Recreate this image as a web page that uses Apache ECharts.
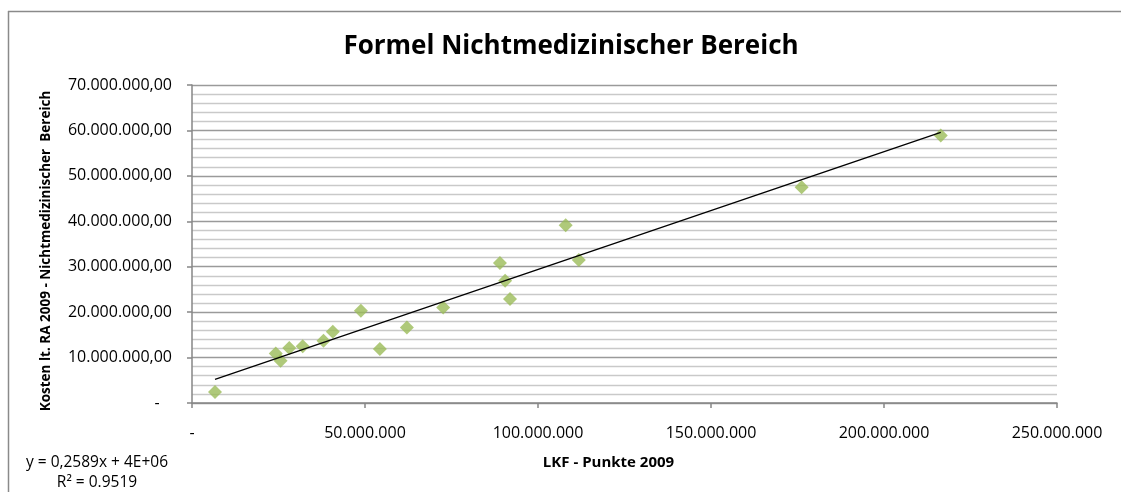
<!DOCTYPE html>
<html>
<head>
<meta charset="utf-8">
<script src="https://cdn.jsdelivr.net/npm/echarts@6/dist/echarts.min.js"></script>
<style>html,body{margin:0;padding:0;background:#fff;}#c{width:1121px;height:492px;}</style>
</head>
<body>
<div id="c"></div>
<script>
// LKF-Punkte 2009 (x) and Kosten lt. RA 2009 (y)
const lkfPunkte = [6650000, 24200000, 25600000, 28100000, 32000000, 38000000, 40700000, 48800000, 54300000, 62100000, 72600000, 89000000, 90500000, 91900000, 108000000, 111800000, 176200000, 216400000];
const kosten    = [2400000, 10900000, 9300000, 12100000, 12500000, 13700000, 15700000, 20300000, 11900000, 16600000, 21000000, 30800000, 26900000, 22900000, 39100000, 31500000, 47500000, 58900000];
const titleText = 'Formel Nichtmedizinischer Bereich';
const xAxisName = 'LKF - Punkte 2009';
const yAxisName = 'Kosten lt. RA 2009 - Nichtmedizinischer  Bereich';
const equationText = 'y = 0,2589x + 4E+06';
const r2Text = 'R² = 0.9519';

const FONT = '"Open Sans", Lato, sans-serif';

function fmtThousands(v) {
  return String(Math.round(v)).replace(/\B(?=(\d{3})+(?!\d))/g, '.');
}

// least-squares trend line over the data
const n = lkfPunkte.length;
let sx = 0, sy = 0, sxx = 0, sxy = 0;
for (let i = 0; i < n; i++) { sx += lkfPunkte[i]; sy += kosten[i]; sxx += lkfPunkte[i]*lkfPunkte[i]; sxy += lkfPunkte[i]*kosten[i]; }
const slope = (n*sxy - sx*sy) / (n*sxx - sx*sx);
const intercept = (sy - slope*sx) / n;
const xmin = Math.min.apply(null, lkfPunkte), xmax = Math.max.apply(null, lkfPunkte);
const trend = [[xmin, slope*xmin + intercept], [xmax, slope*xmax + intercept]];

const chart = echarts.init(document.getElementById('c'));
chart.setOption({
  backgroundColor: '#fff',
  animation: false,
  title: {
    text: titleText, left: 566, top: 29, textAlign: 'center',
    textStyle: { fontFamily: FONT, fontWeight: 'bold', fontSize: 26, color: '#000' }
  },
  grid: { left: 192, right: 64, top: 85, bottom: 89 },
  xAxis: {
    type: 'value', min: 0, max: 250000000, interval: 50000000,
    name: xAxisName, nameLocation: 'middle', nameGap: 52,
    nameTextStyle: { fontFamily: FONT, fontWeight: 'bold', fontSize: 15, color: '#000', padding: [0, 32, 0, 0] },
    axisLine: { show: true, lineStyle: { color: '#868686', width: 1.5 } },
    axisTick: { show: true, length: 5, lineStyle: { color: '#868686', width: 1.5 } },
    axisLabel: {
      margin: 22, fontFamily: FONT, fontSize: 16, color: '#000',
      formatter: v => v === 0 ? '-' : fmtThousands(v)
    },
    splitLine: { show: false }
  },
  yAxis: {
    type: 'value', min: 0, max: 70000000, interval: 10000000,
    name: yAxisName, nameLocation: 'middle', nameGap: 139, nameRotate: 90,
    nameTextStyle: { fontFamily: FONT, fontWeight: 'bold', fontSize: 13.5, color: '#000', padding: [0, 14, 0, 0] },
    axisLine: { show: true, lineStyle: { color: '#868686', width: 1.5 } },
    axisTick: { show: true, length: 5, lineStyle: { color: '#868686', width: 1.5 } },
    minorTick: { show: false, splitNumber: 5 },
    axisLabel: {
      margin: 20, fontFamily: FONT, fontSize: 16, color: '#000',
      formatter: v => v === 0 ? '-   ' : fmtThousands(v) + ',00'
    },
    splitLine: { show: true, lineStyle: { color: '#9a9a9a', width: 1.3 } },
    minorSplitLine: { show: true, lineStyle: { color: '#c9c9c9', width: 1.3 } }
  },
  series: [
    {
      type: 'scatter', data: lkfPunkte.map((x, i) => [x, kosten[i]]),
      symbol: 'diamond', symbolSize: 14,
      itemStyle: { color: '#9BBB59' }, z: 3
    },
    {
      type: 'line', data: trend, symbol: 'none', silent: true,
      lineStyle: { color: '#000', width: 1.3 }, z: 4
    }
  ],
  graphic: [
    { type: 'line', shape: { x1: 8.5, y1: 11, x2: 8.5, y2: 492 }, style: { stroke: '#8a8a8a', lineWidth: 1.5 } },
    { type: 'line', shape: { x1: 8, y1: 11.5, x2: 1121, y2: 11.5 }, style: { stroke: '#8a8a8a', lineWidth: 1.5 } },
    { type: 'text', x: 97, y: 455, style: { text: equationText, font: '15.5px ' + FONT, fill: '#000', textAlign: 'center' } },
    { type: 'text', x: 97, y: 475, style: { text: r2Text, font: '15.5px ' + FONT, fill: '#000', textAlign: 'center' } }
  ]
});
</script>
</body>
</html>
